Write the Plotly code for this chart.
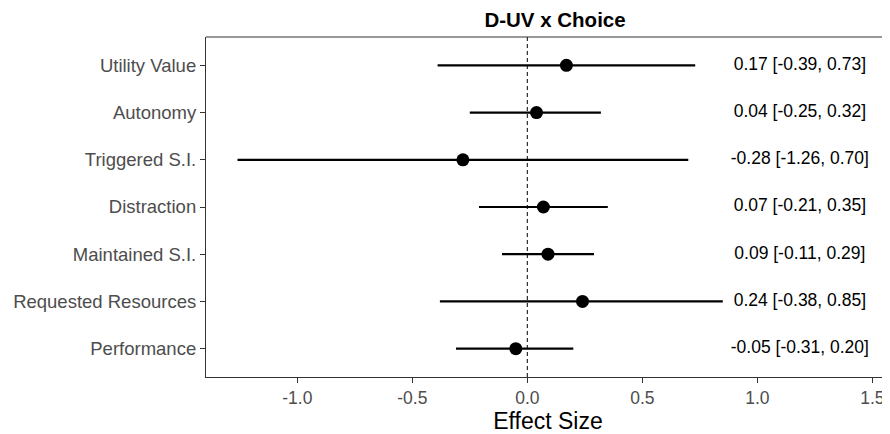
import plotly.graph_objects as go

categories = ["Utility Value", "Autonomy", "Triggered S.I.", "Distraction",
              "Maintained S.I.", "Requested Resources", "Performance"]
estimate = [0.17, 0.04, -0.28, 0.07, 0.09, 0.24, -0.05]
lower = [-0.39, -0.25, -1.26, -0.21, -0.11, -0.38, -0.31]
upper = [0.73, 0.32, 0.70, 0.35, 0.29, 0.85, 0.20]
labels = ["0.17 [-0.39, 0.73]", "0.04 [-0.25, 0.32]", "-0.28 [-1.26, 0.70]",
          "0.07 [-0.21, 0.35]", "0.09 [-0.11, 0.29]", "0.24 [-0.38, 0.85]",
          "-0.05 [-0.31, 0.20]"]
x_ticks = [-1.0, -0.5, 0.0, 0.5, 1.0, 1.5]
x_tick_text = ["-1.0", "-0.5", "0.0", "0.5", "1.0", "1.5"]

n = len(categories)
ypos = [n - i for i in range(n)]

OFF = 8  # page body margin
W, H = 890 - OFF, 434 - OFF
L, R, T, B = 206 - OFF, 0, 37 - OFF, 57
x0_px, unit = 527.3 - OFF, 230.0
xr = [(L - x0_px) / unit, (W - R - x0_px) / unit]
FONT = "Liberation Sans, Arial, Helvetica"

fig = go.Figure()

for i in range(n):
    fig.add_trace(go.Scatter(x=[lower[i], upper[i]], y=[ypos[i], ypos[i]],
                             mode="lines", line=dict(color="black", width=2.2),
                             showlegend=False, hoverinfo="skip"))

fig.add_trace(go.Scatter(x=estimate, y=ypos, mode="markers",
                         marker=dict(color="black", size=13),
                         showlegend=False))

fig.add_trace(go.Scatter(x=[1.185] * n, y=ypos, mode="text", text=labels,
                         textposition="middle center",
                         textfont=dict(family=FONT, size=17.5, color="black"),
                         showlegend=False, hoverinfo="skip"))

fig.add_shape(type="line", x0=0, x1=0, y0=0, y1=1, yref="paper", xref="x",
              line=dict(color="black", width=1, dash="4px,3px"), layer="below")
fig.add_shape(type="line", x0=0, x1=1, y0=1, y1=1, xref="paper", yref="paper",
              line=dict(color="#333333", width=1.2))

fig.update_layout(
    width=W, height=H,
    margin=dict(l=L, r=R, t=T, b=B),
    paper_bgcolor="white", plot_bgcolor="white",
    font=dict(family=FONT, color="#4d4d4d", size=17.5),
    title=dict(text="<b>D-UV x Choice</b>", x=(555 - OFF) / W, xanchor="center",
               y=1 - (20 - OFF) / H, yanchor="middle",
               font=dict(size=20.5, color="black", family=FONT)),
    xaxis=dict(range=xr, tickvals=x_ticks, ticktext=x_tick_text,
               showgrid=False, zeroline=False, showline=True,
               linecolor="#333333", linewidth=1.2, ticks="outside",
               ticklen=5, tickcolor="#333333", tickwidth=1.2,
               tickfont=dict(size=17.5, color="#4d4d4d"),
               title=dict(text="Effect Size", font=dict(size=23, color="black"),
                          standoff=3)),
    yaxis=dict(range=[0.4, n + 0.6], tickvals=ypos, ticktext=categories,
               showgrid=False, zeroline=False, showline=True,
               linecolor="#333333", linewidth=1.2, ticks="outside",
               ticklen=5, tickcolor="#333333", tickwidth=1.2,
               tickfont=dict(size=18.5, color="#4d4d4d")),
)

fig.write_html("out.html")
